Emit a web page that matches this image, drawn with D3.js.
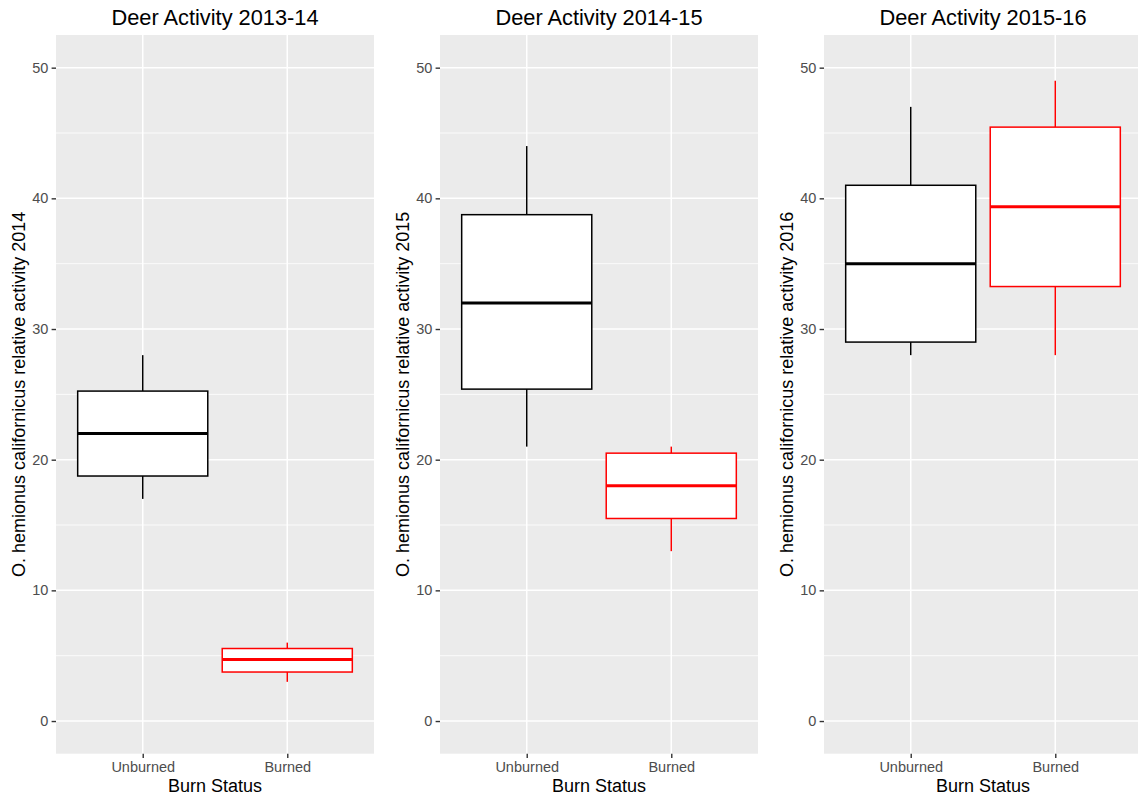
<!DOCTYPE html>
<html>
<head>
<meta charset="utf-8">
<script src="https://cdn.jsdelivr.net/npm/d3@7"></script>
<style>
  html, body { margin: 0; padding: 0; background: #ffffff; }
  svg { display: block; font-family: "Liberation Sans", Arial, Helvetica, sans-serif; }
</style>
</head>
<body>
<svg id="chart" width="1138" height="802"></svg>
<script>
// Panel titles and y-axis titles, one per season
const panelTitles = ["Deer Activity 2013-14", "Deer Activity 2014-15", "Deer Activity 2015-16"];
const yTitles = [
  "O. hemionus californicus relative activity 2014",
  "O. hemionus californicus relative activity 2015",
  "O. hemionus californicus relative activity 2016"
];
const xTitle = "Burn Status";

// Burn status categories and their outline colours
const categories = ["Unburned", "Burned"];
const categoryColors = ["#000000", "#FF0000"];

// Five-number summaries per season: [lower whisker, Q1, median, Q3, upper whisker]
const unburnedStats = [
  [17, 18.75, 22, 25.25, 28],
  [21, 25.4, 32, 38.75, 44],
  [28, 29, 35, 41, 47]
];
const burnedStats = [
  [3, 3.75, 4.7, 5.55, 6],
  [13, 15.5, 18, 20.5, 21],
  [28, 33.25, 39.35, 45.45, 49]
];

// Y axis
const yTicks = [0, 10, 20, 30, 40, 50];
const yMinorTicks = [5, 15, 25, 35, 45];
const yDomain = [-2.5, 52.5];

const svg = d3.select("#chart");

const panelWidth = 318;
const panelLefts = [56, 440, 824];
const panelTop = 35, panelBottom = 753.7;

const y = d3.scaleLinear().domain(yDomain).range([panelBottom, panelTop]);

panelTitles.forEach((title, i) => {
  const left = panelLefts[i];
  const x = d3.scalePoint()
    .domain(categories)
    .range([left + panelWidth * 0.6 / 2.2, left + panelWidth * 1.6 / 2.2]);
  const step = panelWidth / 2.2;
  const boxW = 0.9 * step;

  const g = svg.append("g");

  // panel background
  g.append("rect")
    .attr("x", left).attr("y", panelTop)
    .attr("width", panelWidth).attr("height", panelBottom - panelTop)
    .attr("fill", "#EBEBEB");

  // minor grid
  g.selectAll(".minor").data(yMinorTicks).enter().append("line")
    .attr("x1", left).attr("x2", left + panelWidth)
    .attr("y1", d => y(d)).attr("y2", d => y(d))
    .attr("stroke", "#ffffff").attr("stroke-width", 0.8);

  // major grid
  g.selectAll(".major").data(yTicks).enter().append("line")
    .attr("x1", left).attr("x2", left + panelWidth)
    .attr("y1", d => y(d)).attr("y2", d => y(d))
    .attr("stroke", "#ffffff").attr("stroke-width", 1.5);
  g.selectAll(".majorx").data(categories).enter().append("line")
    .attr("x1", d => x(d)).attr("x2", d => x(d))
    .attr("y1", panelTop).attr("y2", panelBottom)
    .attr("stroke", "#ffffff").attr("stroke-width", 1.5);

  // y axis
  const yAxis = d3.axisLeft(y).tickValues(yTicks).tickSize(4.4).tickPadding(3.2);
  const ya = g.append("g").attr("transform", `translate(${left},0)`).call(yAxis);
  ya.select(".domain").remove();
  ya.selectAll(".tick line").attr("stroke", "#333333").attr("stroke-width", 1.4);
  ya.selectAll(".tick text").attr("fill", "#4D4D4D").style("font-size", "14.5px")
    .style("font-family", "'Liberation Sans', Arial, sans-serif");

  // x axis
  const xAxis = d3.axisBottom(x).tickSize(4.4).tickPadding(3.2);
  const xa = g.append("g").attr("transform", `translate(0,${panelBottom})`).call(xAxis);
  xa.select(".domain").remove();
  xa.selectAll(".tick line").attr("stroke", "#333333").attr("stroke-width", 1.4);
  xa.selectAll(".tick text").attr("fill", "#4D4D4D").style("font-size", "14.5px")
    .style("font-family", "'Liberation Sans', Arial, sans-serif");

  // boxplots
  const stats = [unburnedStats[i], burnedStats[i]];
  categories.forEach((cat, j) => {
    const s = stats[j];
    const cx = x(cat);
    const col = categoryColors[j];
    const bg = g.append("g");
    bg.append("line")
      .attr("x1", cx).attr("x2", cx).attr("y1", y(s[3])).attr("y2", y(s[4]))
      .attr("stroke", col).attr("stroke-width", 1.5);
    bg.append("line")
      .attr("x1", cx).attr("x2", cx).attr("y1", y(s[1])).attr("y2", y(s[0]))
      .attr("stroke", col).attr("stroke-width", 1.5);
    bg.append("rect")
      .attr("x", cx - boxW / 2).attr("y", y(s[3]))
      .attr("width", boxW).attr("height", y(s[1]) - y(s[3]))
      .attr("fill", "#ffffff").attr("stroke", col).attr("stroke-width", 1.5);
    bg.append("line")
      .attr("x1", cx - boxW / 2).attr("x2", cx + boxW / 2)
      .attr("y1", y(s[2])).attr("y2", y(s[2]))
      .attr("stroke", col).attr("stroke-width", 3);
  });

  // panel title
  g.append("text")
    .attr("x", left + panelWidth / 2).attr("y", 25)
    .attr("text-anchor", "middle")
    .style("font-size", "21.8px").attr("fill", "#000000")
    .text(title);

  // x axis title
  g.append("text")
    .attr("x", left + panelWidth / 2).attr("y", 792)
    .attr("text-anchor", "middle")
    .style("font-size", "18px").attr("fill", "#000000")
    .text(xTitle);

  // y axis title
  g.append("text")
    .attr("transform", `translate(${left - 31.5},${(panelTop + panelBottom) / 2}) rotate(-90)`)
    .attr("text-anchor", "middle")
    .style("font-size", "18px").attr("fill", "#000000")
    .text(yTitles[i]);
});
</script>
</body>
</html>
